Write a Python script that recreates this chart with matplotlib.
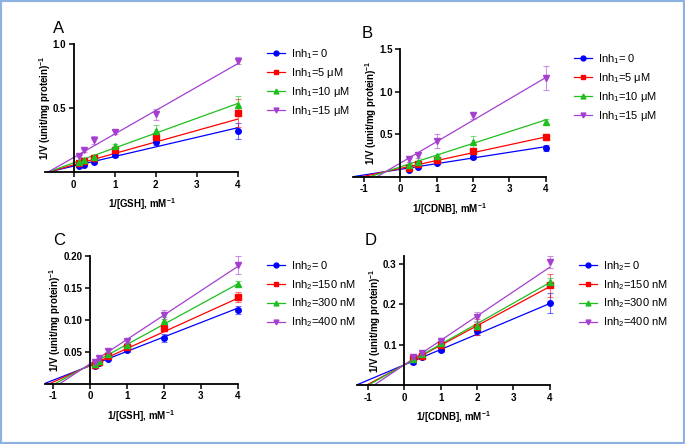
import matplotlib
matplotlib.use("Agg")
import matplotlib.pyplot as plt
import numpy as np
from matplotlib.lines import Line2D
from matplotlib.patches import Rectangle

plt.rcParams['font.family'] = ['Liberation Sans', 'DejaVu Sans']
plt.rcParams['mathtext.default'] = 'regular'

colors = ['#0000ff', '#ff0000', '#1fbf1f', '#a43fd0']
markers = ['o', 's', '^', 'v']

# ---- panel A: 1/[GSH], Inh1 ----
a_x = [0.125, 0.25, 0.5, 1, 2, 4]
a_y = [[0.047, 0.058, 0.079, 0.131, 0.233, 0.322],
       [0.071, 0.089, 0.110, 0.168, 0.272, 0.458],
       [0.075, 0.092, 0.120, 0.200, 0.320, 0.520],
       [0.126, 0.168, 0.249, 0.310, 0.450, 0.870]]
a_err = [[0.005, 0.005, 0.008, 0.010, 0.020, 0.063],
         [0.005, 0.006, 0.010, 0.012, 0.030, 0.110],
         [0.006, 0.006, 0.010, 0.015, 0.045, 0.070],
         [0.010, 0.010, 0.030, 0.015, 0.040, 0.030]]
a_slope = [0.0749, 0.0896, 0.116, 0.1835]
a_icpt = [0.0464, 0.0556, 0.072, 0.1138]
a_labels = ['Inh$_1$= 0', 'Inh$_1$=5 μM', 'Inh$_1$=10 μM', 'Inh$_1$=15 μM']

# ---- panel B: 1/[CDNB], Inh1 ----
b_x = [0.25, 0.5, 1, 2, 4]
b_y = [[0.082, 0.114, 0.157, 0.227, 0.337],
       [0.100, 0.153, 0.200, 0.306, 0.467],
       [0.137, 0.170, 0.240, 0.410, 0.647],
       [0.208, 0.255, 0.416, 0.720, 1.157]]
b_err = [[0.010, 0.010, 0.012, 0.015, 0.030],
         [0.010, 0.020, 0.020, 0.020, 0.015],
         [0.015, 0.020, 0.015, 0.070, 0.030],
         [0.030, 0.030, 0.080, 0.040, 0.140]]
b_slope = [0.0666, 0.0925, 0.138, 0.251]
b_icpt = [0.0866, 0.097, 0.115, 0.16]

# ---- panel C: 1/[GSH], Inh2 ----
c_x = [0.125, 0.25, 0.5, 1, 2, 4]
c_y = [[0.027, 0.0316, 0.039, 0.053, 0.0715, 0.1155],
       [0.030, 0.0337, 0.043, 0.057, 0.0876, 0.1357],
       [0.031, 0.036, 0.046, 0.060, 0.098, 0.156],
       [0.034, 0.040, 0.051, 0.066, 0.108, 0.185]]
c_err = [[0.002, 0.002, 0.002, 0.003, 0.006, 0.006],
         [0.003, 0.003, 0.004, 0.004, 0.005, 0.008],
         [0.003, 0.003, 0.004, 0.004, 0.006, 0.004],
         [0.003, 0.003, 0.004, 0.003, 0.007, 0.014]]
c_slope = [0.0225, 0.0262, 0.0315, 0.038]
c_icpt = [0.028, 0.0287, 0.0298, 0.0311]
c_labels = ['Inh$_2$= 0', 'Inh$_2$=150 nM', 'Inh$_2$=300 nM', 'Inh$_2$=400 nM']

# ---- panel D: 1/[CDNB], Inh2 ----
d_x = [0.25, 0.5, 1, 2, 4]
d_y = [[0.056, 0.070, 0.0865, 0.133, 0.204],
       [0.066, 0.073, 0.100, 0.143, 0.247],
       [0.065, 0.078, 0.103, 0.147, 0.255],
       [0.070, 0.080, 0.110, 0.168, 0.305]]
d_err = [[0.004, 0.004, 0.005, 0.010, 0.025],
         [0.008, 0.008, 0.010, 0.020, 0.028],
         [0.006, 0.006, 0.008, 0.012, 0.010],
         [0.006, 0.007, 0.005, 0.012, 0.015]]
d_slope = [0.038, 0.0485, 0.051, 0.0605]
d_icpt = [0.05, 0.05, 0.05, 0.05]

W, H = 685, 444
fig = plt.figure(figsize=(W / 100, H / 100), dpi=100)


def box(l, r, t, b):
    return [l / W, 1 - b / H, (r - l) / W, (b - t) / H]


def panel(rect, x, ys, errs, slopes, icpts, xlim, ylim, yticks, xticks,
          xlabel, letter, labels, leg_xy):
    ax = fig.add_axes(rect)
    for i in range(4):
        xx = np.array([xlim[0], 4])
        ax.plot(xx, slopes[i] * xx + icpts[i], color=colors[i], lw=0.9, zorder=2)
        eb = ax.errorbar(x, ys[i], yerr=errs[i], fmt='none', ecolor=colors[i],
                         alpha=0.55, elinewidth=0.8, capsize=2, capthick=0.8, zorder=3)
        for art in eb.get_children():
            art.set_clip_on(False)
        ax.plot(x, ys[i], ls='none', marker=markers[i], color=colors[i],
                ms=4, mec=colors[i], zorder=4, clip_on=False)
    ax.set_xlim(*xlim)
    ax.set_ylim(*ylim)
    ax.spines['left'].set_position(('data', 0))
    ax.spines['bottom'].set_position(('data', 0))
    ax.spines['top'].set_visible(False)
    ax.spines['right'].set_visible(False)
    for s in ['left', 'bottom']:
        ax.spines[s].set_linewidth(1.3)
    ax.set_xticks(xticks)
    ax.set_xticklabels([str(t) for t in xticks])
    ax.set_yticks(yticks)
    ax.tick_params(direction='out', length=3.5, width=1.1, labelsize=7, pad=2)
    for lb in ax.get_xticklabels() + ax.get_yticklabels():
        lb.set_fontweight('bold')
    ax.set_xlabel(xlabel, fontsize=7, fontweight='bold', labelpad=5)
    ax.set_ylabel('1/V (unit/mg protein)$^{-1}$', fontsize=7, fontweight='bold', labelpad=0)
    ax.patch.set_alpha(0)
    fig.text(rect[0] + 0.012, rect[1] + rect[3] + 0.025, letter, fontsize=12)
    handles = [Line2D([], [], color=colors[i], marker=markers[i], ms=3.5, lw=0.9)
               for i in range(4)]
    fig.legend(handles, labels, loc='upper left',
               bbox_to_anchor=(leg_xy[0] / W, 1 - leg_xy[1] / H),
               frameon=False, fontsize=8, handlelength=1.6, handletextpad=0.6,
               labelspacing=0.45, borderaxespad=0, borderpad=0)
    return ax


panel(box(45, 238, 44, 172), a_x, a_y, a_err, a_slope, a_icpt,
      (-0.7, 4), (0, 1.0), [0.5, 1.0], [0, 1, 2, 3, 4],
      '1/[GSH], mM$^{-1}$', 'A', a_labels, (267, 47))
panel(box(353, 545.7, 49, 176.7), b_x, b_y, b_err, b_slope, b_icpt,
      (-1.3, 4), (0, 1.5), [0.5, 1.0, 1.5], [-1, 0, 1, 2, 3, 4],
      '1/[CDNB], mM$^{-1}$', 'B', a_labels, (574, 52))
panel(box(45, 237.7, 255.7, 383.7), c_x, c_y, c_err, c_slope, c_icpt,
      (-1.22, 4), (0, 0.20), [0.05, 0.10, 0.15, 0.20], [-1, 0, 1, 2, 3, 4],
      '1/[GSH], mM$^{-1}$', 'C', c_labels, (267, 259))
panel(box(356.7, 549.7, 256, 385), d_x, d_y, d_err, d_slope, d_icpt,
      (-1.31, 4), (0, 0.32), [0.1, 0.2, 0.3], [-1, 0, 1, 2, 3, 4],
      '1/[CDNB], mM$^{-1}$', 'D', c_labels, (579, 259))

fig.patches.append(Rectangle((0, 0), 1, 1, transform=fig.transFigure, fill=False,
                             edgecolor='#8db2e2', lw=3))

fig.savefig('out.png', dpi=100, facecolor='white')
